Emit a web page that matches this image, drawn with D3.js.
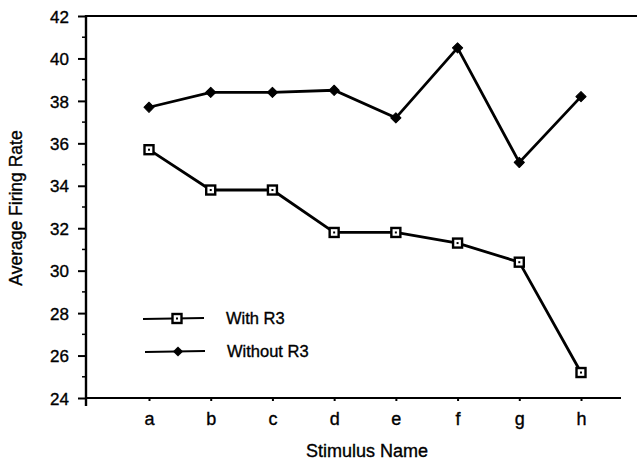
<!DOCTYPE html>
<html>
<head>
    <meta charset="utf-8">
    <title>Average Firing Rate</title>
    <script src="https://cdnjs.cloudflare.com/ajax/libs/d3/7.8.5/d3.min.js"></script>
    <style>
        body { margin: 0; background: #fff; }
        text { font-family: Arial, "Liberation Sans", Helvetica, sans-serif; fill: #000; stroke: #000; stroke-width: 0.35px; }
    </style>
</head>
<body>
<script type="text/javascript">
    var stimuli = ["a", "b", "c", "d", "e", "f", "g", "h"];
    var withR3 = [35.7, 33.8, 33.8, 31.8, 31.8, 31.3, 30.4, 25.2];
    var withoutR3 = [37.7, 38.4, 38.4, 38.5, 37.2, 40.5, 35.1, 38.2];
    var yTicks = [24, 26, 28, 30, 32, 34, 36, 38, 40, 42];

    var width = 638, height = 461;

    var svg = d3.select("body").append("svg")
        .attr("width", width)
        .attr("height", height);

    var xScale = d3.scalePoint()
        .domain(stimuli)
        .range([149, 581]);

    var yScale = d3.scaleLinear()
        .domain([24, 42])
        .range([398, 16]);

    // y axis: major ticks labelled, minor ticks on odd values
    var yAxis = d3.axisLeft(yScale)
        .tickValues(yTicks)
        .tickSize(8)
        .tickPadding(9)
        .tickSizeOuter(0);

    var gy = svg.append("g")
        .attr("transform", "translate(86,0)")
        .call(yAxis);
    gy.select(".domain").remove();
    gy.selectAll(".tick line").attr("stroke-width", 2);
    gy.selectAll(".tick text")
        .attr("dy", "0.36em")
        .style("font-size", "17px");

    gy.selectAll(".minor")
        .data(d3.range(25, 42, 2))
        .enter().append("line")
        .attr("x1", -4).attr("x2", 0)
        .attr("y1", function (d) { return yScale(d); })
        .attr("y2", function (d) { return yScale(d); })
        .attr("stroke", "#000").attr("stroke-width", 1.5);

    gy.append("line")
        .attr("x1", 0).attr("x2", 0)
        .attr("y1", yScale(42) - 1).attr("y2", 406)
        .attr("stroke", "#000").attr("stroke-width", 2.4);

    // x axis
    var xAxis = d3.axisBottom(xScale)
        .tickSize(3)
        .tickPadding(11)
        .tickSizeOuter(0);

    var gx = svg.append("g")
        .attr("transform", "translate(0," + yScale(24) + ")")
        .call(xAxis);
    gx.select(".domain").remove();
    gx.selectAll(".tick line").attr("stroke-width", 2);
    gx.selectAll(".tick text").style("font-size", "18px");

    gx.append("line")
        .attr("x1", 86).attr("x2", 621)
        .attr("y1", 0).attr("y2", 0)
        .attr("stroke", "#000").attr("stroke-width", 2.2);

    // top frame line
    svg.append("line")
        .attr("x1", 86).attr("x2", 637)
        .attr("y1", yScale(42)).attr("y2", yScale(42))
        .attr("stroke", "#000").attr("stroke-width", 2.2);

    // axis titles
    svg.append("text")
        .attr("x", 367).attr("y", 457)
        .attr("text-anchor", "middle")
        .style("font-size", "18px")
        .text("Stimulus Name");

    svg.append("text")
        .attr("transform", "translate(22,208) rotate(-90)")
        .attr("text-anchor", "middle")
        .style("font-size", "17.5px")
        .text("Average Firing Rate");

    // series
    var line = d3.line()
        .x(function (d, i) { return xScale(stimuli[i]); })
        .y(function (d) { return yScale(d); });

    svg.append("path")
        .attr("d", line(withoutR3))
        .attr("fill", "none").attr("stroke", "#000").attr("stroke-width", 2.8);

    svg.append("path")
        .attr("d", line(withR3))
        .attr("fill", "none").attr("stroke", "#000").attr("stroke-width", 2.8);

    var diamond = d3.symbol().type(d3.symbolSquare).size(52);

    function drawSquare(g, x, y) {
        g.append("rect")
            .attr("x", x - 4.5).attr("y", y - 4.5)
            .attr("width", 9).attr("height", 9)
            .attr("fill", "#fff").attr("stroke", "#000").attr("stroke-width", 2.4);
        g.append("rect")
            .attr("x", x - 1).attr("y", y - 1)
            .attr("width", 2).attr("height", 2)
            .attr("fill", "#000");
    }

    var gWith = svg.append("g");
    withR3.forEach(function (d, i) {
        drawSquare(gWith, xScale(stimuli[i]), yScale(d));
    });

    svg.append("g").selectAll("path")
        .data(withoutR3)
        .enter().append("path")
        .attr("d", diamond)
        .attr("transform", function (d, i) {
            return "translate(" + xScale(stimuli[i]) + "," + yScale(d) + ") rotate(45)";
        })
        .attr("fill", "#000")
        .attr("stroke", "#000").attr("stroke-width", 1).attr("stroke-linejoin", "round");

    // legend
    var legend = svg.append("g");
    legend.append("line")
        .attr("x1", 143).attr("x2", 204).attr("y1", 319).attr("y2", 318)
        .attr("stroke", "#000").attr("stroke-width", 2.2);
    drawSquare(legend, 177, 318.5);
    legend.append("text")
        .attr("x", 226).attr("y", 324)
        .style("font-size", "16.5px")
        .text("With R3");

    legend.append("line")
        .attr("x1", 145).attr("x2", 205).attr("y1", 352).attr("y2", 351)
        .attr("stroke", "#000").attr("stroke-width", 2.2);
    legend.append("path")
        .attr("d", diamond)
        .attr("transform", "translate(178,351.5) rotate(45)")
        .attr("fill", "#000");
    legend.append("text")
        .attr("x", 227).attr("y", 357)
        .style("font-size", "16.5px")
        .text("Without R3");
</script>
</body>
</html>
